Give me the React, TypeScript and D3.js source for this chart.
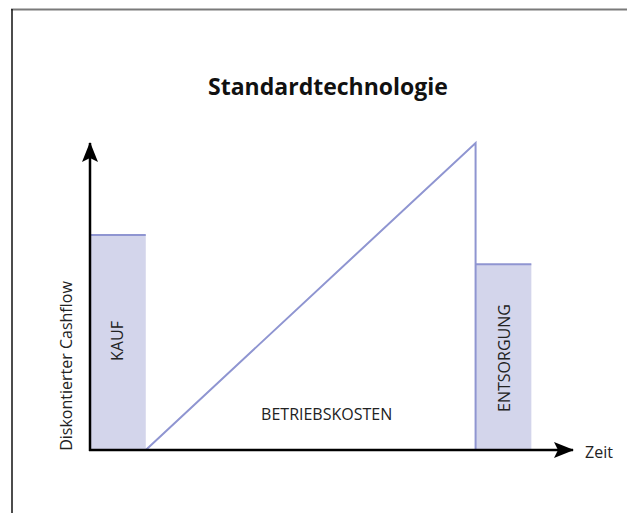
import * as d3 from 'd3';

// Schematic cashflow phases (time in %, discounted cashflow in %)
const phases = ['KAUF', 'BETRIEBSKOSTEN', 'ENTSORGUNG'];
const phaseStart = [0, 11.5, 79.5];
const phaseEnd = [11.5, 79.5, 91];
const phaseStartValue = [70, 0, 60.5];
const phaseEndValue = [70, 100, 60.5];

const title = 'Standardtechnologie';
const yLabel = 'Diskontierter Cashflow';
const xLabel = 'Zeit';

const W = 627;
const H = 513;
const FILL = '#d3d5eb';
const STROKE = '#8f95d1';
const FONT = '"Open Sans", "Noto Sans", sans-serif';

export default function App() {
  const x = d3.scaleLinear().domain([0, 100]).range([90, 575]);
  const y = d3.scaleLinear().domain([0, 100]).range([450, 143]);

  const line = d3.line<[number, number]>()
    .x(d => x(d[0]))
    .y(d => y(d[1]));

  const kauf = 0, betrieb = 1, ents = 2;

  // running cost triangle + drop into disposal bar
  const betriebPath = line([
    [phaseStart[betrieb], phaseStartValue[betrieb]],
    [phaseEnd[betrieb], phaseEndValue[betrieb]],
    [phaseEnd[betrieb], 0],
  ]);

  return (
    <svg width={W} height={H} style={{ position: 'absolute', left: 0, top: 0, background: '#fff' }}
      fontFamily={FONT}>
      <defs>
        <marker id="arrow" viewBox="0 0 20 16" refX="19" refY="8" markerWidth="20" markerHeight="16"
          markerUnits="userSpaceOnUse" orient="auto">
          <path d="M0,0 L20,8 L0,16 L4,8 Z" fill="#000" />
        </marker>
      </defs>

      {/* frame */}
      <line x1={11} x2={W} y1={9.5} y2={9.5} stroke="#7a7a7a" strokeWidth={2} />
      <line x1={12} x2={12} y1={9} y2={H} stroke="#111" strokeWidth={1.5} />

      <text x={328} y={95} textAnchor="middle" fontSize={23} fontWeight="bold" fill="#111">{title}</text>

      {/* KAUF bar */}
      <rect x={x(phaseStart[kauf])} y={y(phaseEndValue[kauf])}
        width={x(phaseEnd[kauf]) - x(phaseStart[kauf])} height={y(0) - y(phaseEndValue[kauf])} fill={FILL} />
      <line x1={x(phaseStart[kauf])} x2={x(phaseEnd[kauf])} y1={y(phaseEndValue[kauf])} y2={y(phaseEndValue[kauf])}
        stroke={STROKE} strokeWidth={2} />

      {/* ENTSORGUNG bar */}
      <rect x={x(phaseStart[ents])} y={y(phaseEndValue[ents])}
        width={x(phaseEnd[ents]) - x(phaseStart[ents])} height={y(0) - y(phaseEndValue[ents])} fill={FILL} />
      <line x1={x(phaseStart[ents])} x2={x(phaseEnd[ents])} y1={y(phaseStartValue[ents])} y2={y(phaseStartValue[ents])}
        stroke={STROKE} strokeWidth={2} />

      <path d={betriebPath ?? ''} fill="none" stroke={STROKE} strokeWidth={2} strokeLinejoin="miter" />

      {/* axes */}
      <line x1={x(0)} x2={x(0)} y1={y(0) + 1} y2={y(100)} stroke="#000" strokeWidth={2.5} markerEnd="url(#arrow)" />
      <line x1={x(0) - 1} x2={x(100) - 2} y1={y(0)} y2={y(0)} stroke="#000" strokeWidth={2.5} markerEnd="url(#arrow)" />

      {/* labels */}
      <text transform={`translate(${(x(phaseStart[kauf]) + x(phaseEnd[kauf])) / 2 + 5},341) rotate(-90)`}
        textAnchor="middle" fontSize={16} fill="#222">{phases[kauf]}</text>
      <text x={(x(phaseStart[betrieb]) + x(phaseEnd[betrieb])) / 2 + 16} y={420}
        textAnchor="middle" fontSize={16} fill="#222">{phases[betrieb]}</text>
      <text transform={`translate(${(x(phaseStart[ents]) + x(phaseEnd[ents])) / 2 + 7},358) rotate(-90)`}
        textAnchor="middle" fontSize={16} fill="#222">{phases[ents]}</text>

      <text transform="translate(72,366) rotate(-90)" textAnchor="middle" fontSize={16} fill="#222">{yLabel}</text>
      <text x={585} y={458} fontSize={16} fill="#222">{xLabel}</text>
    </svg>
  );
}
